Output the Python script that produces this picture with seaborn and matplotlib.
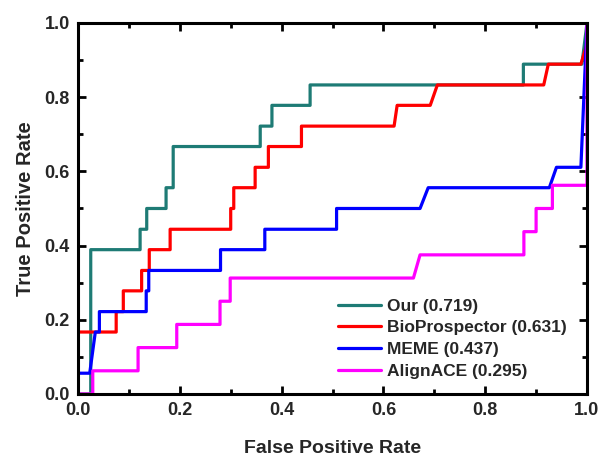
import matplotlib
matplotlib.use("Agg")
import matplotlib.pyplot as plt
from matplotlib.ticker import MultipleLocator
import seaborn as sns
import pandas as pd

sns.set_style("ticks")
plt.rcParams['font.family'] = ['Liberation Sans', 'DejaVu Sans']
plt.rcParams['font.weight'] = 'bold'

# ROC curve vertices
our_fpr = [0, 0.025, 0.025, 0.122, 0.122, 0.135, 0.135, 0.173, 0.173, 0.187, 0.187,
           0.358, 0.358, 0.381, 0.381, 0.456, 0.456, 0.875, 0.875, 0.99, 1.0]
our_tpr = [0, 0, 0.389, 0.389, 0.444, 0.444, 0.5, 0.5, 0.556, 0.556, 0.667,
           0.667, 0.722, 0.722, 0.778, 0.778, 0.833, 0.833, 0.889, 0.889, 1.0]

bio_fpr = [0, 0, 0.075, 0.075, 0.089, 0.089, 0.125, 0.125, 0.140, 0.140, 0.181, 0.181,
           0.300, 0.300, 0.306, 0.306, 0.348, 0.348, 0.374, 0.374, 0.439, 0.439,
           0.621, 0.627, 0.692, 0.706, 0.915, 0.924, 0.988, 1.0, 1.0]
bio_tpr = [0, 0.167, 0.167, 0.222, 0.222, 0.278, 0.278, 0.333, 0.333, 0.389, 0.389, 0.444,
           0.444, 0.5, 0.5, 0.556, 0.556, 0.611, 0.611, 0.667, 0.667, 0.722,
           0.722, 0.778, 0.778, 0.833, 0.833, 0.889, 0.889, 0.944, 1.0]

meme_fpr = [0, 0, 0.023, 0.034, 0.042, 0.042, 0.134, 0.134, 0.139, 0.139, 0.280, 0.280,
            0.367, 0.367, 0.508, 0.508, 0.672, 0.688, 0.926, 0.940, 0.988, 1.0]
meme_tpr = [0, 0.056, 0.056, 0.167, 0.167, 0.222, 0.222, 0.278, 0.278, 0.333, 0.333, 0.389,
            0.389, 0.444, 0.444, 0.5, 0.5, 0.556, 0.556, 0.611, 0.611, 1.0]

align_fpr = [0, 0.029, 0.029, 0.118, 0.118, 0.194, 0.194, 0.279, 0.279, 0.299, 0.299,
             0.659, 0.672, 0.876, 0.876, 0.900, 0.900, 0.932, 0.932, 0.990, 1.0, 1.0]
align_tpr = [0, 0, 0.0625, 0.0625, 0.125, 0.125, 0.1875, 0.1875, 0.25, 0.25, 0.3125,
             0.3125, 0.375, 0.375, 0.4375, 0.4375, 0.5, 0.5, 0.5625, 0.5625, 0.5625, 1.0]

methods = ["Our (0.719)", "BioProspector (0.631)", "MEME (0.437)", "AlignACE (0.295)"]
colors = ["#1E7B75", "#FF0000", "#0000FF", "#FF00FF"]

fig = plt.figure(figsize=(6.01, 4.57), dpi=100)
ax = fig.add_axes([0.1298, 0.1379, 0.8469, 0.8118])

# one call per curve so later methods sit on top, as in the original
for i, (name, xs, ys) in enumerate(zip(methods,
                                       [our_fpr, bio_fpr, meme_fpr, align_fpr],
                                       [our_tpr, bio_tpr, meme_tpr, align_tpr])):
    curve = pd.DataFrame({"fpr": xs, "tpr": ys})
    sns.lineplot(data=curve, x="fpr", y="tpr", sort=False, estimator=None,
                 color=colors[i], linewidth=2.3, label=name, zorder=2 + i * 0.1, ax=ax)

ax.set_xlim(0, 1)
ax.set_ylim(0, 1)
ax.xaxis.set_major_locator(MultipleLocator(0.2))
ax.yaxis.set_major_locator(MultipleLocator(0.2))
ax.xaxis.set_minor_locator(MultipleLocator(0.1))
ax.yaxis.set_minor_locator(MultipleLocator(0.1))
ax.tick_params(which="both", direction="in", top=True, right=True,
               labelsize=13, width=2, color="black", pad=6)
ax.tick_params(which="major", length=6)
ax.tick_params(which="minor", length=3.5)
for lbl in ax.get_xticklabels() + ax.get_yticklabels():
    lbl.set_fontweight("bold")
for sp in ax.spines.values():
    sp.set_linewidth(2.2)
    sp.set_color("black")
    sp.set_zorder(3)

ax.set_xlabel("False Positive Rate", fontsize=14, fontweight="bold", labelpad=15)
ax.set_ylabel("True Positive Rate", fontsize=14.5, fontweight="bold", labelpad=7)

leg = ax.legend(loc="lower left", bbox_to_anchor=(0.497, 0.022), frameon=False,
                fontsize=12.5, handlelength=2.5, handletextpad=0.3,
                labelspacing=0.38, borderaxespad=0)
for t in leg.get_texts():
    t.set_fontweight("bold")
for h in leg.get_lines():
    h.set_linewidth(2.3)

fig.savefig("out.png", dpi=100)
